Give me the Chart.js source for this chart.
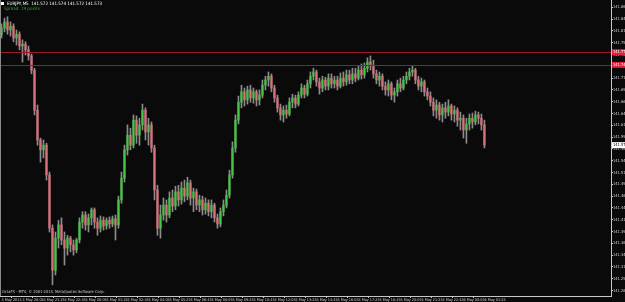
<!DOCTYPE html>
<html>
<head>
<meta charset="utf-8">
<script src="https://cdn.jsdelivr.net/npm/chart.js@4.4.1/dist/chart.umd.min.js"></script>
<style>
  html, body { margin: 0; padding: 0; background: #0a0a0a; overflow: hidden; }
  canvas { display: block; }
</style>
</head>
<body>
<canvas id="chart" width="625" height="302"></canvas>
<script>
// EURJPY M5 — velas leídas a ojo del gráfico de MT4
const opens = [
  141.806,141.821,141.834,141.817,141.825,141.800,141.808,141.783,141.787,141.775,
  141.762,141.732,141.647,141.584,141.563,141.573,141.510,141.397,141.308,141.376,
  141.404,141.372,141.355,141.376,141.362,141.351,141.372,141.410,141.425,141.404,
  141.419,141.436,141.410,141.397,141.414,141.402,141.414,141.406,141.417,141.404,
  141.457,141.503,141.563,141.594,141.573,141.626,141.594,141.616,141.647,141.601,
  141.616,141.567,141.478,141.397,141.425,141.446,141.425,141.461,141.444,141.474,
  141.457,141.482,141.465,141.493,141.461,141.474,141.446,141.457,141.436,141.450,
  141.432,141.446,141.419,141.406,141.432,141.446,141.467,141.510,141.567,141.626,
  141.664,141.686,141.669,141.690,141.673,141.686,141.669,141.679,141.700,141.711,
  141.719,141.694,141.673,141.652,141.637,141.647,141.639,141.664,141.673,141.660,
  141.679,141.694,141.681,141.703,141.719,141.728,141.707,141.694,141.711,141.698,
  141.715,141.703,141.711,141.698,141.715,141.707,141.722,141.711,141.724,141.715,
  141.732,141.722,141.736,141.749,141.741,141.724,141.711,141.719,141.698,141.690,
  141.703,141.679,141.686,141.703,141.694,141.711,141.719,141.728,141.732,141.711,
  141.698,141.707,141.686,141.677,141.664,141.647,141.658,141.637,141.652,141.643,
  141.656,141.639,141.647,141.626,141.630,141.605,141.618,141.630,141.622,141.637,
  141.630,141.616
];
const highs = [
  141.830,141.842,141.845,141.834,141.830,141.817,141.813,141.796,141.792,141.783,
  141.766,141.736,141.658,141.588,141.584,141.577,141.516,141.404,141.389,141.414,
  141.419,141.389,141.382,141.380,141.372,141.376,141.419,141.432,141.432,141.427,
  141.440,141.440,141.419,141.423,141.421,141.419,141.421,141.423,141.425,141.465,
  141.516,141.573,141.616,141.609,141.637,141.635,141.630,141.660,141.652,141.630,
  141.622,141.573,141.488,141.446,141.461,141.457,141.474,141.478,141.486,141.488,
  141.495,141.499,141.505,141.499,141.482,141.480,141.467,141.465,141.461,141.457,
  141.457,141.450,141.427,141.440,141.457,141.478,141.520,141.580,141.637,141.677,
  141.700,141.694,141.698,141.700,141.694,141.690,141.690,141.711,141.719,141.728,
  141.724,141.700,141.679,141.660,141.656,141.658,141.673,141.681,141.679,141.686,
  141.703,141.700,141.711,141.728,141.736,141.732,141.715,141.719,141.717,141.724,
  141.724,141.719,141.719,141.726,141.728,141.732,141.732,141.736,141.736,141.741,
  141.745,141.747,141.758,141.762,141.753,141.732,141.728,141.724,141.707,141.711,
  141.707,141.694,141.711,141.715,141.719,141.728,141.736,141.741,141.736,141.719,
  141.715,141.711,141.694,141.686,141.673,141.669,141.664,141.660,141.664,141.669,
  141.660,141.656,141.652,141.643,141.637,141.630,141.639,141.641,141.645,141.643,
  141.639,141.626
];
const lows = [
  141.800,141.813,141.808,141.804,141.792,141.785,141.775,141.749,141.764,141.753,
  141.724,141.637,141.573,141.537,141.546,141.499,141.389,141.277,141.298,141.355,
  141.362,141.319,141.340,141.347,141.340,141.345,141.366,141.397,141.393,141.389,
  141.404,141.397,141.382,141.389,141.393,141.395,141.397,141.400,141.372,141.397,
  141.450,141.495,141.552,141.563,141.567,141.577,141.573,141.605,141.584,141.573,
  141.558,141.457,141.382,141.376,141.414,141.410,141.419,141.432,141.436,141.444,
  141.448,141.453,141.457,141.446,141.432,141.436,141.432,141.425,141.427,141.423,
  141.419,141.410,141.397,141.400,141.423,141.440,141.461,141.503,141.558,141.618,
  141.652,141.656,141.660,141.664,141.662,141.656,141.658,141.673,141.690,141.698,
  141.686,141.664,141.643,141.626,141.622,141.630,141.635,141.652,141.652,141.656,
  141.673,141.673,141.677,141.694,141.711,141.698,141.681,141.686,141.690,141.690,
  141.694,141.694,141.690,141.694,141.698,141.700,141.703,141.703,141.707,141.711,
  141.713,141.715,141.728,141.732,141.715,141.703,141.698,141.690,141.679,141.677,
  141.669,141.664,141.677,141.686,141.690,141.703,141.711,141.719,141.703,141.690,
  141.686,141.677,141.669,141.656,141.635,141.630,141.626,141.622,141.630,141.635,
  141.626,141.622,141.613,141.605,141.588,141.577,141.605,141.609,141.616,141.618,
  141.605,141.567
];
const closes = [
  141.821,141.834,141.817,141.825,141.800,141.808,141.783,141.787,141.775,141.762,
  141.732,141.647,141.584,141.563,141.573,141.510,141.397,141.308,141.376,141.404,
  141.372,141.355,141.376,141.362,141.351,141.372,141.410,141.425,141.404,141.419,
  141.436,141.410,141.397,141.414,141.402,141.414,141.406,141.417,141.404,141.457,
  141.503,141.563,141.594,141.573,141.626,141.594,141.616,141.647,141.601,141.616,
  141.567,141.478,141.397,141.425,141.446,141.425,141.461,141.444,141.474,141.457,
  141.482,141.465,141.493,141.461,141.474,141.446,141.457,141.436,141.450,141.432,
  141.446,141.419,141.406,141.432,141.446,141.467,141.510,141.567,141.626,141.664,
  141.686,141.669,141.690,141.673,141.686,141.669,141.679,141.700,141.711,141.719,
  141.694,141.673,141.652,141.637,141.647,141.639,141.664,141.673,141.660,141.679,
  141.694,141.681,141.703,141.719,141.728,141.707,141.694,141.711,141.698,141.715,
  141.703,141.711,141.698,141.715,141.707,141.722,141.711,141.724,141.715,141.732,
  141.722,141.736,141.749,141.741,141.724,141.711,141.719,141.698,141.690,141.703,
  141.679,141.686,141.703,141.694,141.711,141.719,141.728,141.732,141.711,141.698,
  141.707,141.686,141.677,141.664,141.647,141.658,141.637,141.652,141.643,141.656,
  141.639,141.647,141.626,141.630,141.605,141.618,141.630,141.622,141.637,141.630,
  141.616,141.573
];

// Etiquetas de tiempo (una cada 7 velas) y del eje de precios
const timeLabels = [
  '4 May 2014', '4 May 20:05', '4 May 21:25', '4 May 22:45', '5 May 00:05', '5 May 01:25',
  '5 May 02:45', '5 May 04:05', '5 May 05:25', '5 May 06:45', '5 May 08:05', '5 May 09:25',
  '5 May 10:45', '5 May 12:05', '5 May 13:25', '5 May 14:45', '5 May 16:05', '5 May 17:25',
  '5 May 18:45', '5 May 20:05', '5 May 21:25', '5 May 22:45', '6 May 00:05', '6 May 01:25'
];
const priceTicks = [
  141.265, 141.290, 141.315, 141.340, 141.365, 141.390, 141.415, 141.440, 141.465,
  141.490, 141.515, 141.540, 141.565, 141.590, 141.615, 141.640, 141.665, 141.690,
  141.715, 141.740, 141.765, 141.790, 141.815, 141.840, 141.865
];
const levels = [141.770, 141.743];     // líneas horizontales rojas
const lastPrice = 141.573;
const headerText = 'EURJPY,M5  141.572 141.574 141.572 141.573';
const spreadText = 'Spread: 19 points';
const footerText = 'OctaFX - MT4, \u00A9 2001-2014, MetaQuotes Software Corp.';

const COLORS = {
  bg      : '#0a0a0a',
  bull    : '#44c544',
  bear    : '#d9707c',
  wick    : '#8c8c8c',
  axis    : '#c8c8c8',
  text    : '#cfcfcf',
  level   : '#a0182e',
  levelBox: '#e3203c',
  green   : '#1fb51f'
};
const FONT = "'Liberation Sans Narrow', 'DejaVu Sans Condensed', sans-serif";
const TICK_STEP = 7;

const wicks  = lows.map((l, i) => ({ x: i, y: [l, highs[i]] }));
const bodies = opens.map((o, i) => ({ x: i, y: [o, closes[i]] }));
const bodyColors = opens.map((o, i) => closes[i] >= o ? COLORS.bull : COLORS.bear);

// ── Fondo, niveles, cajas del eje y textos de cabecera ───────────────
const mtOverlay = {
  id: 'mtOverlay',
  beforeDraw(chart) {
    const { ctx, width, height } = chart;
    ctx.save();
    ctx.fillStyle = COLORS.bg;
    ctx.fillRect(0, 0, width, height);
    ctx.restore();
  },
  afterDatasetsDraw(chart) {
    const { ctx, chartArea: a, scales: { y } } = chart;
    ctx.save();
    ctx.strokeStyle = COLORS.level;
    ctx.lineWidth = 1;
    levels.forEach(v => {
      const py = Math.round(y.getPixelForValue(v)) + 0.5;
      ctx.beginPath(); ctx.moveTo(a.left, py); ctx.lineTo(a.right, py); ctx.stroke();
    });
    // borde izquierdo
    ctx.strokeStyle = '#8a8a8a';
    ctx.beginPath(); ctx.moveTo(0.5, a.top); ctx.lineTo(0.5, a.bottom); ctx.stroke();
    ctx.restore();
  },
  afterDraw(chart) {
    const { ctx, chartArea: a, scales: { y }, width } = chart;
    ctx.save();
    ctx.textBaseline = 'middle';
    ctx.font = `4px ${FONT}`;
    const box = (v, fill, color) => {
      const py = y.getPixelForValue(v);
      ctx.fillStyle = fill;
      ctx.fillRect(a.right + 1, py - 3, width - a.right - 1, 6);
      ctx.fillStyle = color;
      ctx.fillText(v.toFixed(3), a.right + 2, py);
    };
    levels.forEach(v => box(v, COLORS.levelBox, '#ffffff'));
    box(lastPrice, '#ffffff', '#000000');

    ctx.fillStyle = '#ffffff';
    ctx.fillRect(1, 2, 3, 3);
    ctx.font = `4.5px ${FONT}`;
    ctx.fillText(headerText, 7, 3.7);
    ctx.fillStyle = COLORS.green;
    ctx.fillText(spreadText, 4, 8.7);
    ctx.fillStyle = COLORS.text;
    ctx.font = `4px ${FONT}`;
    ctx.fillText(footerText, 2, 291.5);
    ctx.restore();
  }
};

const zeroPad = s => { s.paddingTop = 0; s.paddingBottom = 0; s.paddingLeft = 0; s.paddingRight = 0; };

new Chart(document.getElementById('chart'), {
  type: 'bar',
  data: {
    datasets: [
      { label: 'wick', data: wicks, backgroundColor: COLORS.wick, barThickness: 1, grouped: false, order: 2 },
      { label: 'body', data: bodies, backgroundColor: bodyColors, barThickness: 1.6, minBarLength: 1, grouped: false, order: 1 }
    ]
  },
  options: {
    responsive: false,
    animation: false,
    events: [],
    layout: { padding: 0 },
    plugins: { legend: { display: false }, tooltip: { enabled: false } },
    scales: {
      x: {
        type: 'linear',
        offset: false,
        min: -0.5,
        max: 203.2,
        border: { display: true, color: COLORS.axis, width: 1 },
        grid: {
          drawOnChartArea: false,
          tickLength: 2,
          color: c => (c.tick && c.tick.value / TICK_STEP < timeLabels.length) ? COLORS.axis : 'transparent'
        },
        ticks: {
          stepSize: TICK_STEP,
          includeBounds: false,
          autoSkip: false,
          maxRotation: 0,
          align: 'start',
          padding: 0,
          color: COLORS.text,
          font: { family: FONT, size: 3.8 },
          callback: v => timeLabels[v / TICK_STEP] || ''
        },
        afterFit: s => { s.height = 6; zeroPad(s); }
      },
      y: {
        position: 'right',
        min: 141.2534,
        max: 141.8805,
        border: { display: true, color: COLORS.axis, width: 1 },
        grid: { drawOnChartArea: false, tickLength: 2, color: COLORS.axis },
        ticks: {
          padding: 0,
          color: COLORS.text,
          font: { family: FONT, size: 4 },
          callback: v => v.toFixed(3)
        },
        afterBuildTicks: s => { s.ticks = priceTicks.map(v => ({ value: v })); },
        afterFit: s => { s.width = 14; zeroPad(s); }
      }
    }
  },
  plugins: [mtOverlay]
});
</script>
</body>
</html>
